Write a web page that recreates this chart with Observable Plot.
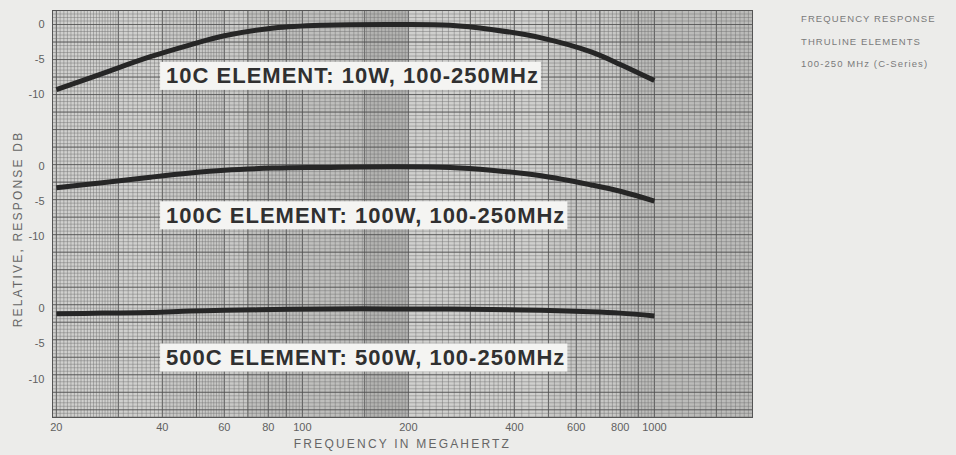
<!DOCTYPE html>
<html>
<head>
<meta charset="utf-8">
<script src="https://cdn.jsdelivr.net/npm/d3@7"></script>
<script src="https://cdn.jsdelivr.net/npm/@observablehq/plot@0.6"></script>
<style>
  html, body { margin: 0; padding: 0; background: #ececea; }
  #wrap { position: relative; width: 956px; height: 455px; overflow: hidden; }
  #side { position: absolute; left: 801px; top: 8px; font-family: "Liberation Sans", Arial, sans-serif;
          font-size: 9.5px; letter-spacing: 1.1px; color: #7a7a7a; line-height: 22.5px; white-space: nowrap; }
</style>
</head>
<body>
<div id="wrap">
  <div id="chart"></div>
  <div id="side">FREQUENCY RESPONSE<br>THRULINE ELEMENTS<br>100-250 MHz (C-Series)</div>
</div>
<script>
// ---- data ----
const freqs     = [20, 27, 37, 48, 60, 83, 115, 180, 263, 344, 477, 661, 800, 1000];
const resp10C   = [-9.3, -7.0, -4.6, -2.9, -1.6, -0.5, -0.1, 0, -0.1, -0.7, -1.9, -3.9, -5.7, -8.0];
const resp100C  = [-3.0, -2.3, -1.5, -0.9, -0.5, -0.2, -0.1, 0, -0.1, -0.5, -1.3, -2.6, -3.5, -4.9];
const resp500C  = [-0.7, -0.6, -0.5, -0.3, -0.2, -0.1, 0, 0, 0, -0.1, -0.2, -0.4, -0.6, -1.0];
const elements  = ["10C", "100C", "500C"];
const elementLabels = ["10C ELEMENT: 10W, 100-250MHz", "100C ELEMENT: 100W, 100-250MHz", "500C ELEMENT: 500W, 100-250MHz"];
const panelOffsets = [0, -20.3, -40.6];     // vertical stacking of the three panels (dB units)
const labelDb   = [-7.4, -7.0, -7.0];
const labelFreq = 41;
const yTickDb     = [0, -5, -10];
const yTickLabels = ["0", "-5", "-10"];
const xTicks      = [20, 40, 60, 80, 100, 200, 400, 600, 800, 1000];
const xTickLabels = ["20", "40", "60", "80", "100", "200", "400", "600", "800", "1000"];
const xTitle = "FREQUENCY IN MEGAHERTZ";
const yTitle = "RELATIVE, RESPONSE DB";
// paper shading bands [from MHz, to MHz, shade]
const bandFrom  = [19.5, 40, 70, 150, 200, 500, 800];
const bandTo    = [40, 70, 150, 200, 500, 800, 1900];
const bandFill  = ["#d0d0ce", "#c9c9c7", "#bfbfbd", "#b3b3b1", "#d0d0ce", "#c8c8c6", "#bcbcba"];
// graph-paper subdivisions [from, to, step]
const gridFrom = [20, 30, 60, 100, 200, 400, 1000];
const gridTo   = [30, 60, 100, 200, 400, 1000, 1900];
const gridStep = [0.5, 1, 2, 4, 10, 20, 50];
const gridMajor = [20, 30, 40, 50, 60, 70, 80, 90, 100, 150, 200, 300, 400, 500, 600, 700, 800, 900, 1000, 1500];

// ---- build tables ----
const series = [resp10C, resp100C, resp500C];
const rows = [];
series.forEach((vals, k) => vals.forEach((v, i) =>
  rows.push({element: elements[k], freq: freqs[i], y: v + panelOffsets[k]})));
const labels = elementLabels.map((t, k) => ({text: t, freq: labelFreq, y: labelDb[k] + panelOffsets[k]}));
const bands = bandFrom.map((f, i) => ({x1: f, x2: bandTo[i], fill: bandFill[i]}));
const vgrid = [];
gridFrom.forEach((f, i) => { for (let v = f; v < gridTo[i] - 1e-9; v += gridStep[i]) vgrid.push(v); });
const yDomain = [-56.1, 2];
const hgrid = d3.range(2, -56.1, -0.5);
const hmid = d3.range(0, -56.1, -2.5);
const yTicks = [], yTickText = [];
panelOffsets.forEach(o => yTickDb.forEach((d, i) => { yTicks.push(d + o); yTickText.push(yTickLabels[i]); }));
const xTickRows = xTicks.map((t, i) => ({x: t, label: xTickLabels[i]}));
const yTickRows = yTicks.map((t, i) => ({y: t, label: yTickText[i]}));

const plot = Plot.plot({
  width: 956, height: 455,
  marginLeft: 52, marginRight: 204, marginTop: 10, marginBottom: 38,
  style: {background: "transparent", fontFamily: "Liberation Sans, Arial, sans-serif", color: "#5e5e5e"},
  x: {type: "log", domain: [19.5, 1900], axis: null},
  y: {domain: yDomain, axis: null},
  marks: [
    Plot.rect(bands, {x1: "x1", x2: "x2", fill: "fill"}),
    Plot.ruleX(vgrid, {stroke: "#6f6f6f", strokeWidth: 0.6, strokeOpacity: 0.75}),
    Plot.ruleX(gridMajor, {stroke: "#4a4a4a", strokeWidth: 0.9, strokeOpacity: 0.8}),
    Plot.ruleY(hgrid, {stroke: "#6f6f6f", strokeWidth: 0.6, strokeOpacity: 0.75}),
    Plot.ruleY(hmid, {stroke: "#4a4a4a", strokeWidth: 0.9, strokeOpacity: 0.8}),
    Plot.frame({stroke: "#555", strokeWidth: 1}),
    Plot.line(rows, {x: "freq", y: "y", z: "element", stroke: "#262626", strokeWidth: 5, curve: "catmull-rom", strokeLinecap: "butt"}),
    Plot.text(labels, {x: "freq", y: "y", text: "text", textAnchor: "start", fontSize: 22, fontWeight: "bold", fill: "#303030"}),
    // x tick labels + title
    Plot.text(xTickRows, {x: "x", text: "label", frameAnchor: "bottom", dy: 13, fontSize: 11, fill: "#606060"}),
    Plot.text([xTitle], {text: d => d, frameAnchor: "bottom", dy: 30, fontSize: 12, fill: "#666"}),
    // y tick labels + title
    Plot.text(yTickRows, {y: "y", text: "label", frameAnchor: "left", dx: -8, textAnchor: "end", fontSize: 11, fill: "#606060"}),
    Plot.text([yTitle], {text: d => d, frameAnchor: "left", textAnchor: "middle", dx: -34, dy: 15, rotate: -90, fontSize: 12, fill: "#666"})
  ]
});
document.getElementById("chart").appendChild(plot);

const svg = d3.select(plot);
// white boxes behind the element labels, sized from the rendered text
svg.selectAll("text").filter(function() { return this.textContent.includes("ELEMENT:"); })
  .style("letter-spacing", "1px")
  .each(function() {
    const b = this.getBBox();
    const tr = this.getAttribute("transform");
    const r = document.createElementNS("http://www.w3.org/2000/svg", "rect");
    r.setAttribute("x", b.x - 6); r.setAttribute("y", b.y + b.height / 2 - 14);
    r.setAttribute("width", b.width + 8); r.setAttribute("height", 28);
    r.setAttribute("fill", "#f4f4f2");
    if (tr) r.setAttribute("transform", tr);
    this.parentNode.insertBefore(r, this);
  });
// letter-spaced axis titles
svg.selectAll("text").filter(function() { return this.textContent === xTitle || this.textContent === yTitle; })
  .style("letter-spacing", "2.2px");
</script>
</body>
</html>
